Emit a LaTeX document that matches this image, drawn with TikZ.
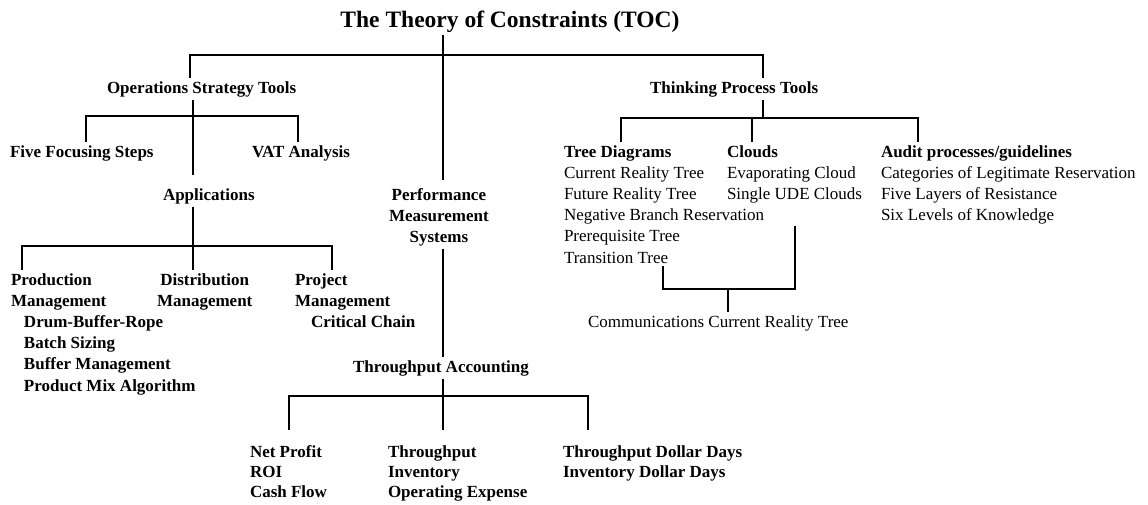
\documentclass[tikz,border=0pt]{standalone}
\usepackage{fontspec}
\setmainfont{Liberation Serif}
\begin{document}
% Multi-line nodes are placed by the baseline of their last line (base anchor).
\begin{tikzpicture}[x=1pt,y=-1pt,
  txt/.style={inner sep=0pt, outer xsep=0pt, outer ysep=3pt, anchor=base west,
    font=\fontsize{17}{21.2}\selectfont},
  hd/.style={txt, font=\bfseries\fontsize{17}{21.2}\selectfont},
  lowhd/.style={txt, align=left, font=\bfseries\fontsize{17}{20}\selectfont},
  link/.style={line width=1.5pt}]

% page
\fill[white] (0,0) rectangle (1148,504);
\useasboundingbox (0,0) rectangle (1148,504);

% ---- text blocks ----
\node[inner sep=0pt, outer sep=3pt, anchor=base,
      font=\bfseries\fontsize{23.5}{28}\selectfont] (toc) at (510,27)
      {The Theory of Constraints (TOC)};

\node[hd] (ost) at (107,93) {Operations Strategy Tools};
\node[hd] (tpt) at (650,93) {Thinking Process Tools};

\node[hd] (ffs) at (10,157) {Five Focusing Steps};
\node[hd] (vat) at (252,157) {VAT Analysis};
\node[hd] (app) at (163,200) {Applications};

\node[hd, align=left] (prod) at (11,391)
  {Production\\Management\\
   \hspace{13pt}Drum-Buffer-Rope\\
   \hspace{13pt}Batch Sizing\\
   \hspace{13pt}Buffer Management\\
   \hspace{13pt}Product Mix Algorithm};
\node[hd, align=center] (dist) at (157,306.2) {Distribution\\Management};
\node[hd, align=left] (proj) at (295,327.4)
  {Project\\Management\\\hspace{16pt}Critical Chain};

\node[hd, align=center] (pms) at (389,242.4) {Performance\\Measurement\\Systems};
\node[hd] (ta) at (353,372) {Throughput Accounting};

\node[lowhd] (np) at (250,497) {Net Profit\\ROI\\Cash Flow};
\node[lowhd] (tio) at (388,497) {Throughput\\Inventory\\Operating Expense};
\node[lowhd] (tdd) at (563,477) {Throughput Dollar Days\\Inventory Dollar Days};

\node[txt, align=left] (trees) at (564,263)
  {\textbf{Tree Diagrams}\\Current Reality Tree\\Future Reality Tree\\
   Negative Branch Reservation\\Prerequisite Tree\\Transition Tree};
\node[txt, align=left] (clouds) at (727,199.4)
  {\textbf{Clouds}\\Evaporating Cloud\\Single UDE Clouds};
\node[txt, align=left] (audit) at (881,220.6)
  {\textbf{Audit processes/guidelines}\\Categories of Legitimate Reservation\\
   Five Layers of Resistance\\Six Levels of Knowledge};
\node[txt] (crt) at (588,327) {Communications Current Reality Tree};

% ---- junction points ----
\coordinate (spine)     at (443,0);
\coordinate (ostDrop)   at (190,55);
\coordinate (tptDrop)   at (763,55);
\coordinate (ostHub)    at (193,116);
\coordinate (ffsDrop)   at (86,116);
\coordinate (vatDrop)   at (298,116);
\coordinate (appTop)    at ([yshift=10pt]app.north);
\coordinate (appHub)    at (193,246);
\coordinate (prodDrop)  at (22,246);
\coordinate (projDrop)  at (332,246);
\coordinate (pmsTop)    at ([yshift=5pt]pms.north);
\coordinate (taHub)     at (443,396);
\coordinate (npDrop)    at (289,396);
\coordinate (tddDrop)   at (588,396);
\coordinate (npTop)     at ([yshift=12pt]np.north);
\coordinate (tioTop)    at ([yshift=12pt]tio.north);
\coordinate (tddTop)    at ([yshift=12pt]tdd.north);
\coordinate (tptHub)    at (763,118);
\coordinate (treesDrop) at (621,118);
\coordinate (cloudsDrop) at (752,118);
\coordinate (auditDrop) at (918,118);
\coordinate (crtL)      at (663,289);
\coordinate (crtM)      at (728,289);
\coordinate (crtR)      at (795,289);
\coordinate (cloudsEnd) at (795,226);

% ---- connectors ----
\draw[link] (toc.south -| spine) -- (pmsTop -| spine);
\draw[link] (ost.north -| ostDrop) -- (ostDrop) -- (tptDrop) -- (tpt.north -| tptDrop);

\draw[link] (ost.south -| ostHub) -- (appTop -| ostHub);
\draw[link] (ffs.north -| ffsDrop) -- (ffsDrop) -- (vatDrop) -- (vat.north -| vatDrop);

\draw[link] (app.south -| appHub) -- (dist.north -| appHub);
\draw[link] (prod.north -| prodDrop) -- (prodDrop) -- (projDrop) -- (proj.north -| projDrop);

\draw[link] (pms.south -| spine) -- (ta.north -| spine);
\draw[link] (ta.south -| spine) -- (tioTop -| spine);
\draw[link] (npTop -| npDrop) -- (npDrop) -- (tddDrop) -- (tddTop -| tddDrop);

\draw[link] (tpt.south -| tptHub) -- (tptHub);
\draw[link] (trees.north -| treesDrop) -- (treesDrop) -- (auditDrop) -- (audit.north -| auditDrop);
\draw[link] (cloudsDrop) -- (clouds.north -| cloudsDrop);

\draw[link] (trees.south -| crtL) -- (crtL) -- (crtR) -- (cloudsEnd);
\draw[link] (crtM) -- (crt.north -| crtM);
\end{tikzpicture}
\end{document}
